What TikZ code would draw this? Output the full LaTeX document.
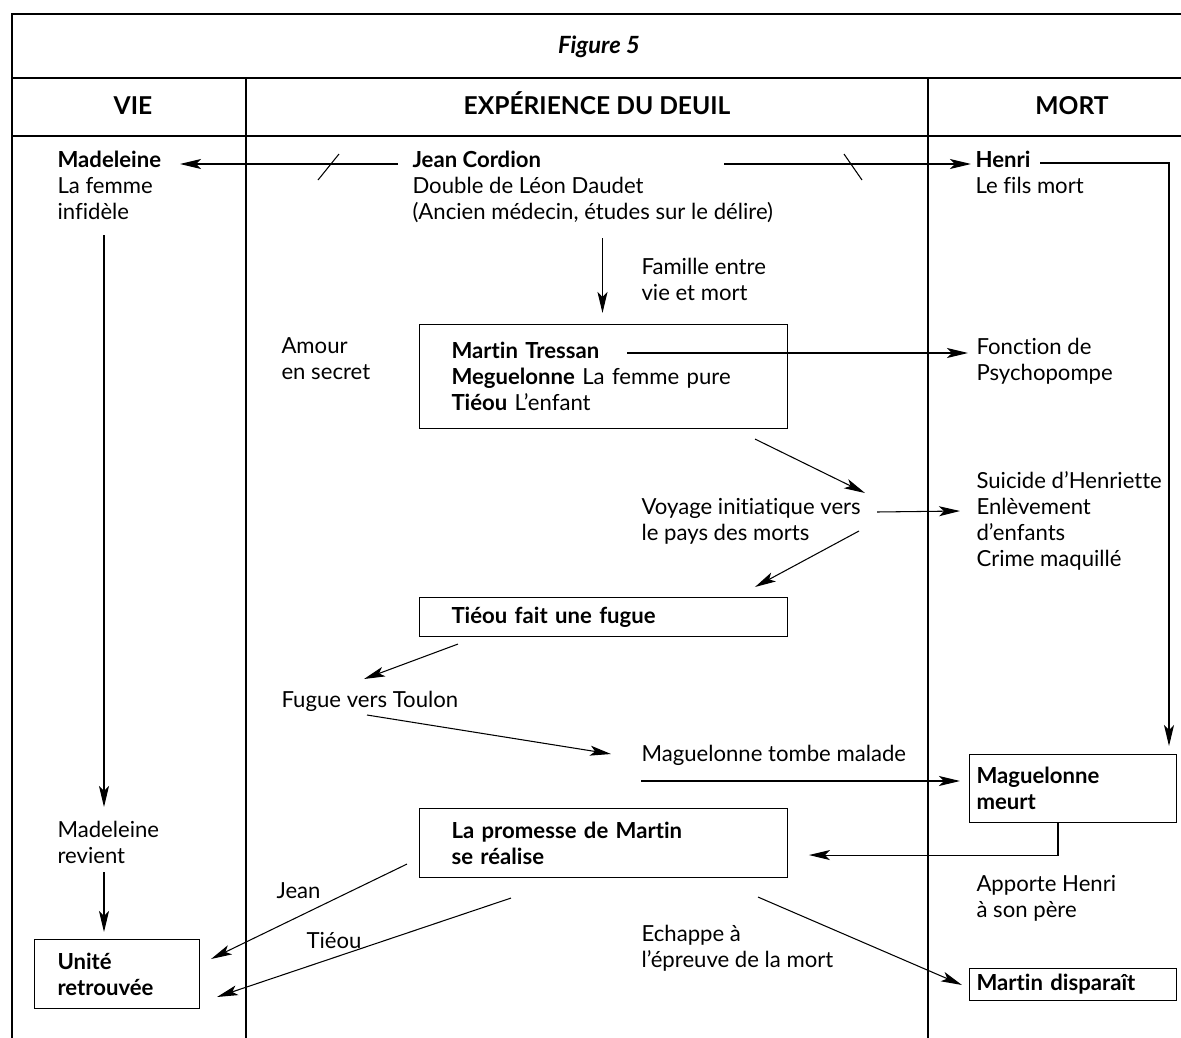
\documentclass[tikz,border=0pt]{standalone}
\usepackage{fontspec}
\setmainfont{Lato}[Ligatures={TeX,NoCommon}]
\usetikzlibrary{arrows.meta,calc}

\begin{document}
\begin{tikzpicture}[x=0.02cm, y=-0.02cm, line width=0.6pt,
    every node/.style={inner sep=0pt, font=\fontsize{12.6}{14.8}\selectfont},
    txt/.style={anchor=north west, align=left, execute at begin node=\rule{0pt}{0.46cm}},
    box/.style={draw, anchor=north west, align=left, inner ysep=0pt},
    hd/.style={anchor=base, font=\fontsize{14}{16}\selectfont\bfseries},
    arr/.style={-{Stealth[length=0.42cm,width=0.2cm,inset=0.1cm]}}]
  \useasboundingbox (0,0) rectangle (1181,1038);
  % frame
  \draw (12,1038) -- (12,14) -- (1181,14);
  \draw (12,78) -- (1181,78);
  \draw (12,136) -- (1181,136);
  \foreach \x in {246,928} \draw (\x,78) -- (\x,1038);
  \node[hd, font=\fontsize{13.5}{16}\selectfont\bfseries\itshape] (fig) at (599,53) {Figure 5};
  \node[hd] (vie) at (133,114) {VIE};
  \node[hd] (deuil) at (597,114) {EXPÉRIENCE DU DEUIL};
  \node[hd] (mort) at (1072,114) {MORT};
  % texts
  \node[txt] (madeleine) at (57,151) {\textbf{Madeleine}\\La femme\\infidèle};
  \node[txt] (jean) at (412,151) {\textbf{Jean Cordion}\\Double de Léon Daudet\\(Ancien médecin, études sur le délire)};
  \node[txt] (henri) at (975,151) {\textbf{Henri}\\Le fils mort};
  \node[txt] (famille) at (641,258) {Famille entre\\vie et mort};
  \node[txt] (amour) at (281,337) {Amour\\en secret};
  \node[txt] (fonction) at (976,338) {Fonction de\\Psychopompe};
  \node[txt] (voyage) at (641,498) {Voyage initiatique vers\\le pays des morts};
  \node[txt] (suicide) at (976,471) {Suicide d’Henriette\\Enlèvement\\d’enfants\\Crime maquillé};
  \node[txt] (toulon) at (281,684) {Fugue vers Toulon};
  \node[txt] (malade) at (641,738) {Maguelonne tombe malade};
  \node[txt] (revient) at (57,821) {Madeleine\\revient};
  \node[txt] (apporte) at (976,875) {Apporte Henri\\à son père};
  \node[txt] (jeanlbl) at (276,875) {Jean};
  \node[txt] (tieoulbl) at (306,925) {Tiéou};
  \node[txt] (echappe) at (641,925) {Echappe à\\l’épreuve de la mort};
  % boxes
  \node[box, minimum width=7.36cm, minimum height=2.08cm, text width=6.08cm, inner xsep=0.64cm] (martin) at (419,324)
    {\textbf{Martin Tressan}\\\textbf{Meguelonne} La femme pure\\\textbf{Tiéou} L’enfant};
  \node[box, minimum width=7.36cm, minimum height=0.78cm, text width=6.08cm, inner xsep=0.64cm] (fugue) at (419,597)
    {\textbf{Tiéou fait une fugue}};
  \node[box, minimum width=7.36cm, minimum height=1.38cm, text width=6.08cm, inner xsep=0.64cm] (promesse) at (419,808)
    {\textbf{La promesse de Martin}\\\textbf{se réalise}};
  \node[box, minimum width=4.14cm, minimum height=1.36cm, text width=3.86cm, inner xsep=0.14cm] (meurt) at (969,754)
    {\textbf{Maguelonne}\\\textbf{meurt}};
  \node[box, minimum width=4.14cm, minimum height=0.64cm, text width=3.86cm, inner xsep=0.14cm] (disparait) at (969,968)
    {\textbf{Martin disparaît}};
  \node[box, minimum width=3.3cm, minimum height=1.38cm, text width=2.38cm, inner xsep=0.46cm] (unite) at (34,939)
    {\textbf{Unité}\\\textbf{retrouvée}};
  % connectors
  \draw[arr] ($(jean.north west)+(-14,13)$) -- ($(madeleine.north west)+(123,13)$);
  \draw (318,180) -- (339,154);
  \draw[arr] ($(jean.north west)+(312,13)$) -- ($(henri.north west)+(-4,13)$);
  \draw (844,154) -- (862,180);
  \draw[arr] ($(henri.north west)+(65,12)$) -| ($(meurt.north east)+(-8,-8)$);
  \draw[arr] ($(meurt.south west)+(89,0)$) |- ($(promesse.south east)+(21,-23)$);
  \draw[arr] ($(martin.north)+(-1,-86)$) -- ($(martin.north)+(-1,-11)$);
  \draw[arr] ($(martin.north west)+(208,29)$) -- ($(fonction.north west)+(-8,15)$);
  \draw[arr] ($(martin.south east)+(-33,10)$) -- ($(voyage.north west)+(224,-5)$);
  \draw[arr] ($(voyage.north west)+(236,14)$) -- ($(suicide.north west)+(-16,40)$);
  \draw[arr] ($(voyage.north west)+(218,33)$) -- ($(fugue.north east)+(-33,-10)$);
  \draw[arr] ($(fugue.south west)+(39,7)$) -- ($(toulon.north west)+(83,-5)$);
  \draw[arr] ($(toulon.north west)+(86,31)$) -- ($(malade.north west)+(-30,16)$);
  \draw[arr] ($(malade.north west)+(0,43)$) -- ($(meurt.north west)+(-9,27)$);
  \draw[arr] ($(madeleine.north west)+(47,84)$) -- ($(revient.north west)+(47,-14)$);
  \draw[arr] ($(revient.north west)+(47,51)$) -- ($(unite.north west)+(70,-7)$);
  \draw[arr] ($(promesse.south west)+(-12,-14)$) -- ($(unite.north east)+(11,20)$);
  \draw[arr] ($(promesse.south west)+(92,20)$) -- ($(unite.north east)+(17,58)$);
  \draw[arr] ($(promesse.south east)+(-30,19)$) -- ($(disparait.north west)+(-7,17)$);
\end{tikzpicture}
\end{document}
